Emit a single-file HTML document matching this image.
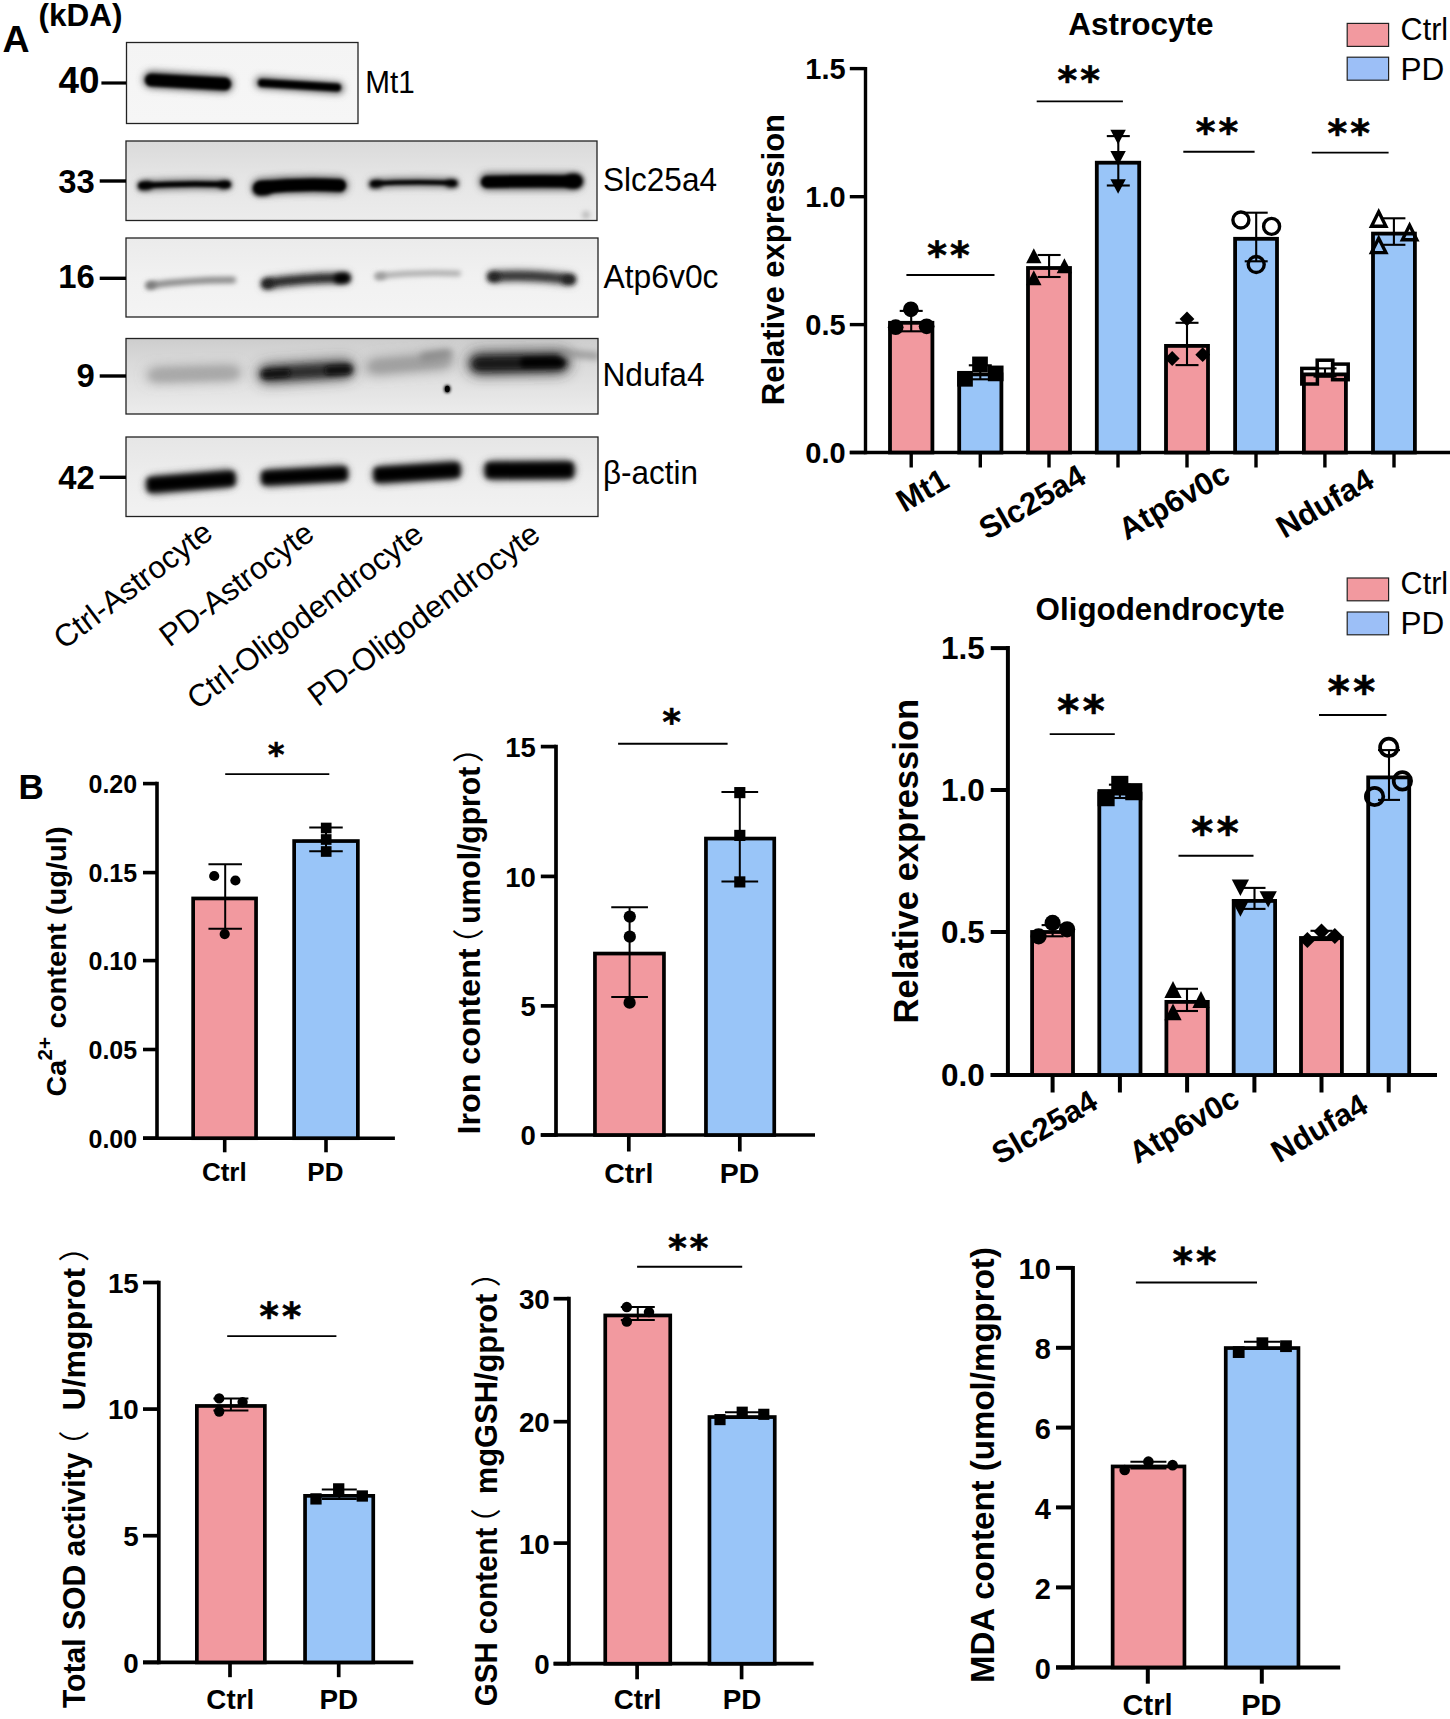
<!DOCTYPE html>
<html lang="en"><head><meta charset="utf-8"><title>Figure</title>
<style>html,body{margin:0;padding:0;background:#fff}svg{display:block;font-family:"Liberation Sans","Noto Sans CJK SC",sans-serif;fill:#000}</style></head><body>
<svg width="1450" height="1719" viewBox="0 0 1450 1719">
<defs><filter id="b1" filterUnits="userSpaceOnUse" x="100" y="20" width="520" height="520"><feGaussianBlur stdDeviation="1.6"/></filter><filter id="b2" filterUnits="userSpaceOnUse" x="100" y="20" width="520" height="520"><feGaussianBlur stdDeviation="2.4"/></filter><filter id="b3" filterUnits="userSpaceOnUse" x="100" y="20" width="520" height="520"><feGaussianBlur stdDeviation="3.6"/></filter><filter id="b6" filterUnits="userSpaceOnUse" x="100" y="20" width="520" height="520"><feGaussianBlur stdDeviation="7"/></filter></defs>
<rect width="1450" height="1719" fill="#fff"/>
<text x="2.5" y="51.7" font-size="37.5" font-weight="bold">A</text>
<text x="38.5" y="25.9" font-size="31.5" font-weight="bold">(kDA)</text>
<clipPath id="c1"><rect x="126.5" y="42.5" width="231.5" height="81.0"/></clipPath>
<linearGradient id="gc1" x1="0" y1="0" x2="0" y2="1"><stop offset="0" stop-color="#f4f4f4"/><stop offset="1" stop-color="#f6f6f6"/></linearGradient>
<rect x="126.5" y="42.5" width="231.5" height="81.0" fill="url(#gc1)"/>
<g clip-path="url(#c1)">
<path d="M151.5 79.5 Q188.0 81.75 224.5 84" fill="none" stroke="#555" stroke-width="17" stroke-linecap="round" filter="url(#b3)" opacity="1"/>
<path d="M151.25 80 Q188.0 82.0 224.75 84" fill="none" stroke="#000" stroke-width="12.5" stroke-linecap="round" filter="url(#b1)" opacity="1"/>
<path d="M261.0 82.5 Q299.5 85.25 338.0 88" fill="none" stroke="#666" stroke-width="12" stroke-linecap="round" filter="url(#b3)" opacity="1"/>
<path d="M262.0 83 Q299.5 85.25 337.0 87.5" fill="none" stroke="#000" stroke-width="8" stroke-linecap="round" filter="url(#b1)" opacity="1"/>
</g>
<rect x="126.5" y="42.5" width="231.5" height="81.0" fill="none" stroke="#222" stroke-width="1.3"/>
<clipPath id="c2"><rect x="126" y="141" width="471" height="79.5"/></clipPath>
<linearGradient id="gc2" x1="0" y1="0" x2="0" y2="1"><stop offset="0" stop-color="#dadada"/><stop offset="0.45" stop-color="#e5e5e5"/><stop offset="1" stop-color="#ececec"/></linearGradient>
<rect x="126" y="141" width="471" height="79.5" fill="url(#gc2)"/>
<g clip-path="url(#c2)">
<path d="M143.0 185.5 Q184.5 183.0 226.0 184.5" fill="none" stroke="#666" stroke-width="10" stroke-linecap="round" filter="url(#b3)" opacity="1"/>
<path d="M141.75 185.5 Q184.5 183.0 227.25 184.5" fill="none" stroke="#000" stroke-width="5.5" stroke-linecap="round" filter="url(#b1)" opacity="1"/>
<path d="M142.0 186 Q145.0 185.75 148.0 185.5" fill="none" stroke="#000" stroke-width="8" stroke-linecap="round" filter="url(#b2)" opacity="1"/>
<path d="M222.5 185 Q225.0 184.75 227.5 184.5" fill="none" stroke="#000" stroke-width="7" stroke-linecap="round" filter="url(#b2)" opacity="1"/>
<path d="M260.5 187 Q300.0 183.25 339.5 185.5" fill="none" stroke="#555" stroke-width="17" stroke-linecap="round" filter="url(#b3)" opacity="1"/>
<path d="M260.25 187.5 Q300.0 183.5 339.75 185.5" fill="none" stroke="#000" stroke-width="12.5" stroke-linecap="round" filter="url(#b1)" opacity="1"/>
<path d="M259.0 189.5 Q262.5 189.25 266.0 189" fill="none" stroke="#000" stroke-width="12" stroke-linecap="round" filter="url(#b2)" opacity="1"/>
<path d="M373.5 183.5 Q413.5 181.25 453.5 183" fill="none" stroke="#666" stroke-width="9" stroke-linecap="round" filter="url(#b3)" opacity="1"/>
<path d="M373.25 183.5 Q413.5 181.25 453.75 183" fill="none" stroke="#000" stroke-width="4.5" stroke-linecap="round" filter="url(#b1)" opacity="1"/>
<path d="M373.0 184.5 Q375.75 184.25 378.5 184" fill="none" stroke="#000" stroke-width="7" stroke-linecap="round" filter="url(#b2)" opacity="1"/>
<path d="M449.5 183.5 Q452.0 183.5 454.5 183.5" fill="none" stroke="#000" stroke-width="7" stroke-linecap="round" filter="url(#b2)" opacity="1"/>
<path d="M487.5 181.5 Q531.0 181.5 574.5 181.5" fill="none" stroke="#555" stroke-width="17" stroke-linecap="round" filter="url(#b3)" opacity="1"/>
<path d="M487.0 182 Q531.0 180.75 575.0 181.5" fill="none" stroke="#000" stroke-width="12" stroke-linecap="round" filter="url(#b1)" opacity="1"/>
<path d="M572.0 181 Q574.0 181.0 576.0 181" fill="none" stroke="#000" stroke-width="14" stroke-linecap="round" filter="url(#b2)" opacity="1"/>
<ellipse cx="586" cy="215" rx="4" ry="4" fill="#bbb" filter="url(#b2)"/>
</g>
<rect x="126" y="141" width="471" height="79.5" fill="none" stroke="#222" stroke-width="1.3"/>
<clipPath id="c3"><rect x="126" y="238" width="472" height="79"/></clipPath>
<linearGradient id="gc3" x1="0" y1="0" x2="0" y2="1"><stop offset="0" stop-color="#ebebeb"/><stop offset="0.5" stop-color="#f1f1f1"/><stop offset="1" stop-color="#f4f4f4"/></linearGradient>
<rect x="126" y="238" width="472" height="79" fill="url(#gc3)"/>
<g clip-path="url(#c3)">
<path d="M149.25 285.5 Q191.0 279.75 232.75 280" fill="none" stroke="#888" stroke-width="6.5" stroke-linecap="round" filter="url(#b2)" opacity="1"/>
<path d="M149.5 285.5 Q151.0 285.25 152.5 285" fill="none" stroke="#777" stroke-width="7" stroke-linecap="round" filter="url(#b2)" opacity="1"/>
<path d="M267.0 283.5 Q306.0 277.75 345.0 278" fill="none" stroke="#666" stroke-width="12" stroke-linecap="round" filter="url(#b3)" opacity="1"/>
<path d="M266.0 283.5 Q306.0 277.75 346.0 278" fill="none" stroke="#222" stroke-width="6" stroke-linecap="round" filter="url(#b2)" opacity="1"/>
<path d="M339.0 278.5 Q342.0 278.25 345.0 278" fill="none" stroke="#000" stroke-width="10" stroke-linecap="round" filter="url(#b2)" opacity="1"/>
<path d="M266.5 284 Q268.0 283.75 269.5 283.5" fill="none" stroke="#222" stroke-width="9" stroke-linecap="round" filter="url(#b2)" opacity="1"/>
<path d="M377.75 276 Q418.0 271.75 458.25 273.5" fill="none" stroke="#aaa" stroke-width="5.5" stroke-linecap="round" filter="url(#b2)" opacity="1"/>
<path d="M378.25 276.5 Q380.5 276.25 382.75 276" fill="none" stroke="#999" stroke-width="6.5" stroke-linecap="round" filter="url(#b2)" opacity="1"/>
<path d="M493.0 276.5 Q531.5 274.0 570.0 279.5" fill="none" stroke="#666" stroke-width="12" stroke-linecap="round" filter="url(#b3)" opacity="1"/>
<path d="M492.0 276.5 Q531.5 274.0 571.0 279.5" fill="none" stroke="#333" stroke-width="6" stroke-linecap="round" filter="url(#b2)" opacity="1"/>
<path d="M492.5 277 Q494.0 277.0 495.5 277" fill="none" stroke="#222" stroke-width="9" stroke-linecap="round" filter="url(#b2)" opacity="1"/>
<path d="M566.5 279.5 Q568.5 279.5 570.5 279.5" fill="none" stroke="#222" stroke-width="9" stroke-linecap="round" filter="url(#b2)" opacity="1"/>
</g>
<rect x="126" y="238" width="472" height="79" fill="none" stroke="#222" stroke-width="1.3"/>
<clipPath id="c4"><rect x="126" y="338.5" width="472" height="75.5"/></clipPath>
<linearGradient id="gc4" x1="0" y1="0" x2="0" y2="1"><stop offset="0" stop-color="#cdcdcd"/><stop offset="0.3" stop-color="#d9d9d9"/><stop offset="1" stop-color="#ececec"/></linearGradient>
<rect x="126" y="338.5" width="472" height="75.5" fill="url(#gc4)"/>
<g clip-path="url(#c4)">
<path d="M153.5 375 Q194.0 373.75 234.5 372.5" fill="none" stroke="#888" stroke-width="11" stroke-linecap="round" filter="url(#b6)" opacity="1"/>
<path d="M153.5 375.5 Q194.0 374.25 234.5 373" fill="none" stroke="#a8a8a8" stroke-width="7" stroke-linecap="round" filter="url(#b3)" opacity="1"/>
<path d="M267.0 374 Q306.0 371.5 345.0 369" fill="none" stroke="#444" stroke-width="18" stroke-linecap="round" filter="url(#b6)" opacity="1"/>
<path d="M266.5 374 Q307.0 371.75 347.5 369.5" fill="none" stroke="#2a2a2a" stroke-width="11" stroke-linecap="round" filter="url(#b3)" opacity="1"/>
<path d="M265.5 374.5 Q276.0 373.75 286.5 373" fill="none" stroke="#111" stroke-width="7" stroke-linecap="round" filter="url(#b2)" opacity="1"/>
<path d="M329.0 370.5 Q338.0 370.0 347.0 369.5" fill="none" stroke="#111" stroke-width="8" stroke-linecap="round" filter="url(#b2)" opacity="1"/>
<path d="M372.5 367 Q409.0 363.75 445.5 360.5" fill="none" stroke="#888" stroke-width="13" stroke-linecap="round" filter="url(#b6)" opacity="1"/>
<path d="M373.5 366.5 Q410.0 363.75 446.5 361" fill="none" stroke="#a0a0a0" stroke-width="7" stroke-linecap="round" filter="url(#b3)" opacity="1"/>
<path d="M424.0 357 Q436.0 355.25 448.0 353.5" fill="none" stroke="#8a8a8a" stroke-width="8" stroke-linecap="round" filter="url(#b3)" opacity="1"/>
<path d="M479.0 363.5 Q519.0 362.75 559.0 362" fill="none" stroke="#333" stroke-width="22" stroke-linecap="round" filter="url(#b6)" opacity="1"/>
<path d="M478.5 364 Q519.0 363.25 559.5 362.5" fill="none" stroke="#161616" stroke-width="13" stroke-linecap="round" filter="url(#b3)" opacity="1"/>
<path d="M524.5 362.5 Q542.0 362.25 559.5 362" fill="none" stroke="#000" stroke-width="9" stroke-linecap="round" filter="url(#b2)" opacity="1"/>
<path d="M563.0 353 Q580.0 354.5 597.0 356" fill="none" stroke="#8c8c8c" stroke-width="6" stroke-linecap="round" filter="url(#b3)" opacity="1"/>
<ellipse cx="447.3" cy="389" rx="3.2" ry="4" fill="#000" filter="url(#b1)"/>
<ellipse cx="447.3" cy="389" rx="2.4" ry="3.2" fill="#000"/>
</g>
<rect x="126" y="338.5" width="472" height="75.5" fill="none" stroke="#222" stroke-width="1.3"/>
<clipPath id="c5"><rect x="126" y="437" width="472" height="79.5"/></clipPath>
<linearGradient id="gc5" x1="0" y1="0" x2="0" y2="1"><stop offset="0" stop-color="#e6e6e6"/><stop offset="0.5" stop-color="#ededed"/><stop offset="1" stop-color="#f2f2f2"/></linearGradient>
<rect x="126" y="437" width="472" height="79.5" fill="url(#gc5)"/>
<g clip-path="url(#c5)">
<path d="M154.5 485 Q191.0 481.75 227.5 478.5" fill="none" stroke="#444" stroke-width="19" stroke-linecap="round" filter="url(#b3)" opacity="1"/>
<path d="M147.75 485 Q191.0 481.75 234.25 478.5" fill="none" stroke="#000" stroke-width="13.5" stroke-linecap="butt" filter="url(#b2)" opacity="1"/>
<path d="M269.0 478 Q304.5 475.75 340.0 473.5" fill="none" stroke="#444" stroke-width="18" stroke-linecap="round" filter="url(#b3)" opacity="1"/>
<path d="M262.25 478 Q304.5 475.75 346.75 473.5" fill="none" stroke="#000" stroke-width="12.5" stroke-linecap="butt" filter="url(#b2)" opacity="1"/>
<path d="M381.5 475 Q417.0 472.5 452.5 470" fill="none" stroke="#444" stroke-width="19" stroke-linecap="round" filter="url(#b3)" opacity="1"/>
<path d="M374.75 475 Q417.0 472.5 459.25 470" fill="none" stroke="#000" stroke-width="13.5" stroke-linecap="butt" filter="url(#b2)" opacity="1"/>
<path d="M493.0 470.5 Q529.5 470.25 566.0 470" fill="none" stroke="#444" stroke-width="20" stroke-linecap="round" filter="url(#b3)" opacity="1"/>
<path d="M486.25 470.5 Q529.5 470.25 572.75 470" fill="none" stroke="#000" stroke-width="14.5" stroke-linecap="butt" filter="url(#b2)" opacity="1"/>
</g>
<rect x="126" y="437" width="472" height="79.5" fill="none" stroke="#222" stroke-width="1.3"/>
<text x="58.6" y="92.7" font-size="37" font-weight="bold" textLength="41" lengthAdjust="spacingAndGlyphs">40</text>
<line x1="101.4" y1="83" x2="126" y2="83" stroke="#000" stroke-width="3.2" stroke-linecap="butt"/>
<text x="58.2" y="192.8" font-size="32.8" font-weight="bold">33</text>
<line x1="99.7" y1="181" x2="126" y2="181" stroke="#000" stroke-width="3.4" stroke-linecap="butt"/>
<text x="58.2" y="287.5" font-size="32.8" font-weight="bold">16</text>
<line x1="99.7" y1="278.3" x2="126" y2="278.3" stroke="#000" stroke-width="3.4" stroke-linecap="butt"/>
<text x="76.6" y="387.3" font-size="32.8" font-weight="bold">9</text>
<line x1="99.7" y1="376" x2="126" y2="376" stroke="#000" stroke-width="3.4" stroke-linecap="butt"/>
<text x="58.2" y="489" font-size="32.8" font-weight="bold">42</text>
<line x1="99.7" y1="477.3" x2="126" y2="477.3" stroke="#000" stroke-width="3.4" stroke-linecap="butt"/>
<text x="365.3" y="92.8" font-size="31.8" textLength="49.5" lengthAdjust="spacingAndGlyphs">Mt1</text>
<text x="603" y="191.4" font-size="32.3" textLength="114" lengthAdjust="spacingAndGlyphs">Slc25a4</text>
<text x="603.5" y="287.7" font-size="32.3" textLength="115" lengthAdjust="spacingAndGlyphs">Atp6v0c</text>
<text x="602.5" y="386.4" font-size="32.3" textLength="102" lengthAdjust="spacingAndGlyphs">Ndufa4</text>
<text x="603" y="484.2" font-size="32.3" textLength="95" lengthAdjust="spacingAndGlyphs">β-actin</text>
<text x="214.7" y="536.5" font-size="31.2" text-anchor="end" transform="rotate(-37 214.7 536.5)">Ctrl-Astrocyte</text>
<text x="316.2" y="537.3" font-size="31.2" text-anchor="end" transform="rotate(-37 316.2 537.3)">PD-Astrocyte</text>
<text x="425.6" y="538.4" font-size="31.2" text-anchor="end" transform="rotate(-37 425.6 538.4)">Ctrl-Oligodendrocyte</text>
<text x="542.2" y="538.4" font-size="31.2" text-anchor="end" transform="rotate(-37 542.2 538.4)">PD-Oligodendrocyte</text>
<text x="1140.8" y="35.2" font-size="31.5" font-weight="bold" text-anchor="middle">Astrocyte</text>
<rect x="1347.2" y="23.4" width="41.4" height="23" fill="#F2999F" stroke="#222" stroke-width="1.2"/>
<text x="1400.6" y="40.1" font-size="31.5" textLength="47.5" lengthAdjust="spacingAndGlyphs">Ctrl</text>
<rect x="1347.2" y="57.199999999999996" width="41.4" height="23" fill="#9CBFF7" stroke="#222" stroke-width="1.2"/>
<text x="1400.6" y="80.1" font-size="31.5">PD</text>
<line x1="865.5" y1="66.89999999999999" x2="865.5" y2="454.2" stroke="#000" stroke-width="3.4" stroke-linecap="butt"/>
<line x1="849.8" y1="452.5" x2="1450" y2="452.5" stroke="#000" stroke-width="3.4" stroke-linecap="butt"/>
<line x1="849.8" y1="68.6" x2="865.5" y2="68.6" stroke="#000" stroke-width="3.4" stroke-linecap="butt"/>
<text x="845.6" y="79.0" font-size="29" font-weight="bold" text-anchor="end">1.5</text>
<line x1="849.8" y1="196.7" x2="865.5" y2="196.7" stroke="#000" stroke-width="3.4" stroke-linecap="butt"/>
<text x="845.6" y="207.1" font-size="29" font-weight="bold" text-anchor="end">1.0</text>
<line x1="849.8" y1="324.6" x2="865.5" y2="324.6" stroke="#000" stroke-width="3.4" stroke-linecap="butt"/>
<text x="845.6" y="335.0" font-size="29" font-weight="bold" text-anchor="end">0.5</text>
<line x1="849.8" y1="452.5" x2="865.5" y2="452.5" stroke="#000" stroke-width="3.4" stroke-linecap="butt"/>
<text x="845.6" y="462.9" font-size="29" font-weight="bold" text-anchor="end">0.0</text>
<line x1="911.2" y1="452.5" x2="911.2" y2="467.5" stroke="#000" stroke-width="3.4" stroke-linecap="butt"/>
<line x1="980.3" y1="452.5" x2="980.3" y2="467.5" stroke="#000" stroke-width="3.4" stroke-linecap="butt"/>
<line x1="1049" y1="452.5" x2="1049" y2="467.5" stroke="#000" stroke-width="3.4" stroke-linecap="butt"/>
<line x1="1118" y1="452.5" x2="1118" y2="467.5" stroke="#000" stroke-width="3.4" stroke-linecap="butt"/>
<line x1="1187" y1="452.5" x2="1187" y2="467.5" stroke="#000" stroke-width="3.4" stroke-linecap="butt"/>
<line x1="1256" y1="452.5" x2="1256" y2="467.5" stroke="#000" stroke-width="3.4" stroke-linecap="butt"/>
<line x1="1324.9" y1="452.5" x2="1324.9" y2="467.5" stroke="#000" stroke-width="3.4" stroke-linecap="butt"/>
<line x1="1394" y1="452.5" x2="1394" y2="467.5" stroke="#000" stroke-width="3.4" stroke-linecap="butt"/>
<text x="784.4" y="259.6" font-size="31" font-weight="bold" text-anchor="middle" transform="rotate(-90 784.4 259.6)" textLength="291.3" lengthAdjust="spacingAndGlyphs">Relative expression</text>
<rect x="890.0" y="322.79999999999995" width="42.399999999999935" height="129.70000000000002" fill="#F2999F" stroke="#000" stroke-width="3.8"/>
<line x1="911.2" y1="310.9" x2="911.2" y2="331.3" stroke="#000" stroke-width="2.1" stroke-linecap="butt"/>
<line x1="899.7" y1="310.9" x2="922.7" y2="310.9" stroke="#000" stroke-width="2.1" stroke-linecap="butt"/>
<line x1="899.7" y1="331.3" x2="922.7" y2="331.3" stroke="#000" stroke-width="2.1" stroke-linecap="butt"/>
<circle cx="910.9" cy="309.3" r="7.85" fill="#000"/>
<circle cx="895.7" cy="327.2" r="7.85" fill="#000"/>
<circle cx="926.6" cy="326.3" r="7.85" fill="#000"/>
<rect x="959.1999999999999" y="374.4" width="42.2" height="78.1" fill="#99C5F8" stroke="#000" stroke-width="3.8"/>
<line x1="980.3" y1="365.3" x2="980.3" y2="379.3" stroke="#000" stroke-width="2.1" stroke-linecap="butt"/>
<line x1="968.8" y1="365.3" x2="991.8" y2="365.3" stroke="#000" stroke-width="2.1" stroke-linecap="butt"/>
<line x1="968.8" y1="379.3" x2="991.8" y2="379.3" stroke="#000" stroke-width="2.1" stroke-linecap="butt"/>
<rect x="972.15" y="356.55" width="15.70" height="15.70" fill="#000"/>
<rect x="957.15" y="370.95" width="15.70" height="15.70" fill="#000"/>
<rect x="987.85" y="365.55" width="15.70" height="15.70" fill="#000"/>
<rect x="1028.0" y="268.0" width="42.000000000000185" height="184.49999999999997" fill="#F2999F" stroke="#000" stroke-width="3.8"/>
<line x1="1049.1" y1="255" x2="1049.1" y2="277" stroke="#000" stroke-width="2.1" stroke-linecap="butt"/>
<line x1="1037.6" y1="255" x2="1060.6" y2="255" stroke="#000" stroke-width="2.1" stroke-linecap="butt"/>
<line x1="1037.6" y1="277" x2="1060.6" y2="277" stroke="#000" stroke-width="2.1" stroke-linecap="butt"/>
<polygon points="1033.8,248.30 1041.50,263.30 1026.10,263.30" fill="#000"/>
<polygon points="1064.4,258.30 1072.10,273.30 1056.70,273.30" fill="#000"/>
<polygon points="1033.8,270.20 1041.50,285.20 1026.10,285.20" fill="#000"/>
<rect x="1096.8000000000002" y="162.70000000000002" width="42.39999999999982" height="289.8" fill="#99C5F8" stroke="#000" stroke-width="3.8"/>
<line x1="1118.3" y1="136.1" x2="1118.3" y2="185.5" stroke="#000" stroke-width="2.1" stroke-linecap="butt"/>
<line x1="1106.8" y1="136.1" x2="1129.8" y2="136.1" stroke="#000" stroke-width="2.1" stroke-linecap="butt"/>
<line x1="1106.8" y1="185.5" x2="1129.8" y2="185.5" stroke="#000" stroke-width="2.1" stroke-linecap="butt"/>
<polygon points="1118.1,144.40 1125.80,129.80 1110.40,129.80" fill="#000"/>
<polygon points="1118.1,165.60 1125.80,151.00 1110.40,151.00" fill="#000"/>
<polygon points="1118.1,193.80 1125.80,179.20 1110.40,179.20" fill="#000"/>
<rect x="1166.0" y="345.9" width="42.000000000000185" height="106.6" fill="#F2999F" stroke="#000" stroke-width="3.8"/>
<line x1="1187" y1="322.8" x2="1187" y2="365.1" stroke="#000" stroke-width="2.1" stroke-linecap="butt"/>
<line x1="1175.5" y1="322.8" x2="1198.5" y2="322.8" stroke="#000" stroke-width="2.1" stroke-linecap="butt"/>
<line x1="1175.5" y1="365.1" x2="1198.5" y2="365.1" stroke="#000" stroke-width="2.1" stroke-linecap="butt"/>
<polygon points="1187,311.50 1194.40,318.9 1187,326.30 1179.60,318.9" fill="#000"/>
<polygon points="1172.2,351.10 1179.60,358.5 1172.2,365.90 1164.80,358.5" fill="#000"/>
<polygon points="1202.7,347.30 1210.10,354.7 1202.7,362.10 1195.30,354.7" fill="#000"/>
<rect x="1235.1000000000001" y="238.8" width="41.90000000000005" height="213.7" fill="#99C5F8" stroke="#000" stroke-width="3.8"/>
<line x1="1256.2" y1="212.7" x2="1256.2" y2="261.3" stroke="#000" stroke-width="2.1" stroke-linecap="butt"/>
<line x1="1244.7" y1="212.7" x2="1267.7" y2="212.7" stroke="#000" stroke-width="2.1" stroke-linecap="butt"/>
<line x1="1244.7" y1="261.3" x2="1267.7" y2="261.3" stroke="#000" stroke-width="2.1" stroke-linecap="butt"/>
<circle cx="1240.9" cy="220" r="8.00" fill="none" stroke="#000" stroke-width="3.40"/>
<circle cx="1271.6" cy="226.4" r="8.00" fill="none" stroke="#000" stroke-width="3.40"/>
<circle cx="1256.2" cy="264.5" r="8.00" fill="none" stroke="#000" stroke-width="3.40"/>
<rect x="1303.9" y="374.4" width="41.99999999999996" height="78.1" fill="#F2999F" stroke="#000" stroke-width="3.8"/>
<line x1="1325" y1="368.4" x2="1325" y2="376.5" stroke="#000" stroke-width="2.1" stroke-linecap="butt"/>
<line x1="1313.5" y1="368.4" x2="1336.5" y2="368.4" stroke="#000" stroke-width="2.1" stroke-linecap="butt"/>
<line x1="1313.5" y1="376.5" x2="1336.5" y2="376.5" stroke="#000" stroke-width="2.1" stroke-linecap="butt"/>
<rect x="1317.20" y="360.20" width="15.60" height="15.60" fill="none" stroke="#000" stroke-width="3.50"/>
<rect x="1301.80" y="368.40" width="15.60" height="15.60" fill="none" stroke="#000" stroke-width="3.50"/>
<rect x="1332.60" y="364.10" width="15.60" height="15.60" fill="none" stroke="#000" stroke-width="3.50"/>
<rect x="1373.0" y="233.6" width="41.90000000000005" height="218.9" fill="#99C5F8" stroke="#000" stroke-width="3.8"/>
<line x1="1393.9" y1="218.3" x2="1393.9" y2="244.8" stroke="#000" stroke-width="2.1" stroke-linecap="butt"/>
<line x1="1382.4" y1="218.3" x2="1405.4" y2="218.3" stroke="#000" stroke-width="2.1" stroke-linecap="butt"/>
<line x1="1382.4" y1="244.8" x2="1405.4" y2="244.8" stroke="#000" stroke-width="2.1" stroke-linecap="butt"/>
<polygon points="1378.7,211.80 1385.90,226.20 1371.50,226.20" fill="none" stroke="#000" stroke-width="3.40" stroke-linejoin="miter" stroke-miterlimit="10"/>
<polygon points="1409.6,225.30 1416.80,239.70 1402.40,239.70" fill="none" stroke="#000" stroke-width="3.40" stroke-linejoin="miter" stroke-miterlimit="10"/>
<polygon points="1378.7,238.20 1385.90,252.60 1371.50,252.60" fill="none" stroke="#000" stroke-width="3.40" stroke-linejoin="miter" stroke-miterlimit="10"/>
<line x1="906.4" y1="275" x2="994.5" y2="275" stroke="#000" stroke-width="1.9" stroke-linecap="butt"/>
<text x="948.6" y="267.6" font-size="37.8" font-weight="bold" text-anchor="middle" font-family="'DejaVu Sans Mono',monospace" stroke="#000" stroke-width="0.6">**</text>
<line x1="1036.7" y1="101.4" x2="1122.9" y2="101.4" stroke="#000" stroke-width="1.9" stroke-linecap="butt"/>
<text x="1078.7" y="92.9" font-size="37.8" font-weight="bold" text-anchor="middle" font-family="'DejaVu Sans Mono',monospace" stroke="#000" stroke-width="0.6">**</text>
<line x1="1183.3" y1="151.7" x2="1254.6" y2="151.7" stroke="#000" stroke-width="1.9" stroke-linecap="butt"/>
<text x="1217.1" y="144.5" font-size="37.8" font-weight="bold" text-anchor="middle" font-family="'DejaVu Sans Mono',monospace" stroke="#000" stroke-width="0.6">**</text>
<line x1="1311.8" y1="152.6" x2="1388.6" y2="152.6" stroke="#000" stroke-width="1.9" stroke-linecap="butt"/>
<text x="1348.8" y="145.7" font-size="37.8" font-weight="bold" text-anchor="middle" font-family="'DejaVu Sans Mono',monospace" stroke="#000" stroke-width="0.6">**</text>
<text x="951" y="486" font-size="31.3" font-weight="bold" text-anchor="end" transform="rotate(-30 951 486)">Mt1</text>
<text x="1088" y="482" font-size="31.3" font-weight="bold" text-anchor="end" transform="rotate(-30 1088 482)">Slc25a4</text>
<text x="1232" y="480" font-size="31.3" font-weight="bold" text-anchor="end" transform="rotate(-30 1232 480)">Atp6v0c</text>
<text x="1376" y="486" font-size="31.3" font-weight="bold" text-anchor="end" transform="rotate(-30 1376 486)">Ndufa4</text>
<text x="1035.6" y="620.3" font-size="30.5" font-weight="bold" textLength="249" lengthAdjust="spacingAndGlyphs">Oligodendrocyte</text>
<rect x="1347.2" y="578" width="41.4" height="22.8" fill="#F2999F" stroke="#222" stroke-width="1.2"/>
<text x="1400.6" y="593.8" font-size="31.5" textLength="47.5" lengthAdjust="spacingAndGlyphs">Ctrl</text>
<rect x="1347.2" y="612" width="41.4" height="22.8" fill="#9CBFF7" stroke="#222" stroke-width="1.2"/>
<text x="1400.6" y="634" font-size="31.5">PD</text>
<line x1="1007.9" y1="646.1" x2="1007.9" y2="1077.0" stroke="#000" stroke-width="4.0" stroke-linecap="butt"/>
<line x1="990.7" y1="1075" x2="1437" y2="1075" stroke="#000" stroke-width="4.0" stroke-linecap="butt"/>
<line x1="990.7" y1="648.1" x2="1007.9" y2="648.1" stroke="#000" stroke-width="4.0" stroke-linecap="butt"/>
<text x="984.8" y="659.4" font-size="31.5" font-weight="bold" text-anchor="end">1.5</text>
<line x1="990.7" y1="790" x2="1007.9" y2="790" stroke="#000" stroke-width="4.0" stroke-linecap="butt"/>
<text x="984.8" y="801.3" font-size="31.5" font-weight="bold" text-anchor="end">1.0</text>
<line x1="990.7" y1="932" x2="1007.9" y2="932" stroke="#000" stroke-width="4.0" stroke-linecap="butt"/>
<text x="984.8" y="943.3" font-size="31.5" font-weight="bold" text-anchor="end">0.5</text>
<line x1="990.7" y1="1075" x2="1007.9" y2="1075" stroke="#000" stroke-width="4.0" stroke-linecap="butt"/>
<text x="984.8" y="1086.3" font-size="31.5" font-weight="bold" text-anchor="end">0.0</text>
<line x1="1052.6" y1="1075" x2="1052.6" y2="1092.5" stroke="#000" stroke-width="4.0" stroke-linecap="butt"/>
<line x1="1119.9" y1="1075" x2="1119.9" y2="1092.5" stroke="#000" stroke-width="4.0" stroke-linecap="butt"/>
<line x1="1187.1" y1="1075" x2="1187.1" y2="1092.5" stroke="#000" stroke-width="4.0" stroke-linecap="butt"/>
<line x1="1254.4" y1="1075" x2="1254.4" y2="1092.5" stroke="#000" stroke-width="4.0" stroke-linecap="butt"/>
<line x1="1321.5" y1="1075" x2="1321.5" y2="1092.5" stroke="#000" stroke-width="4.0" stroke-linecap="butt"/>
<line x1="1388.7" y1="1075" x2="1388.7" y2="1092.5" stroke="#000" stroke-width="4.0" stroke-linecap="butt"/>
<text x="918.1" y="861.2" font-size="34.5" font-weight="bold" text-anchor="middle" transform="rotate(-90 918.1 861.2)" textLength="324.7" lengthAdjust="spacingAndGlyphs">Relative expression</text>
<rect x="1032.1000000000001" y="932.0" width="40.90000000000005" height="142.99999999999997" fill="#F2999F" stroke="#000" stroke-width="3.8"/>
<line x1="1052.6" y1="925.1" x2="1052.6" y2="936.3" stroke="#000" stroke-width="2.1" stroke-linecap="butt"/>
<line x1="1041.6" y1="925.1" x2="1063.6" y2="925.1" stroke="#000" stroke-width="2.1" stroke-linecap="butt"/>
<line x1="1041.6" y1="936.3" x2="1063.6" y2="936.3" stroke="#000" stroke-width="2.1" stroke-linecap="butt"/>
<circle cx="1052.6" cy="922.9" r="8.09" fill="#000"/>
<circle cx="1038.6" cy="936.3" r="8.09" fill="#000"/>
<circle cx="1067.1" cy="929.3" r="8.09" fill="#000"/>
<rect x="1099.3000000000002" y="793.6" width="41.2" height="281.4" fill="#99C5F8" stroke="#000" stroke-width="3.8"/>
<line x1="1119.9" y1="784.7" x2="1119.9" y2="798" stroke="#000" stroke-width="2.1" stroke-linecap="butt"/>
<line x1="1108.9" y1="784.7" x2="1130.9" y2="784.7" stroke="#000" stroke-width="2.1" stroke-linecap="butt"/>
<line x1="1108.9" y1="798" x2="1130.9" y2="798" stroke="#000" stroke-width="2.1" stroke-linecap="butt"/>
<rect x="1111.24" y="775.84" width="17.11" height="17.11" fill="#000"/>
<rect x="1097.54" y="789.14" width="17.11" height="17.11" fill="#000"/>
<rect x="1125.24" y="783.14" width="17.11" height="17.11" fill="#000"/>
<rect x="1166.4" y="1001.9" width="41.40000000000005" height="73.1" fill="#F2999F" stroke="#000" stroke-width="3.8"/>
<line x1="1187" y1="988.8" x2="1187" y2="1011" stroke="#000" stroke-width="2.1" stroke-linecap="butt"/>
<line x1="1176.0" y1="988.8" x2="1198.0" y2="988.8" stroke="#000" stroke-width="2.1" stroke-linecap="butt"/>
<line x1="1176.0" y1="1011" x2="1198.0" y2="1011" stroke="#000" stroke-width="2.1" stroke-linecap="butt"/>
<polygon points="1173,981.10 1181.62,997.90 1164.38,997.90" fill="#000"/>
<polygon points="1201,991.10 1209.62,1007.90 1192.38,1007.90" fill="#000"/>
<polygon points="1173,1003.40 1181.62,1020.20 1164.38,1020.20" fill="#000"/>
<rect x="1233.7" y="900.9" width="41.40000000000005" height="174.1" fill="#99C5F8" stroke="#000" stroke-width="3.8"/>
<line x1="1254.5" y1="887.9" x2="1254.5" y2="908.9" stroke="#000" stroke-width="2.1" stroke-linecap="butt"/>
<line x1="1243.5" y1="887.9" x2="1265.5" y2="887.9" stroke="#000" stroke-width="2.1" stroke-linecap="butt"/>
<line x1="1243.5" y1="908.9" x2="1265.5" y2="908.9" stroke="#000" stroke-width="2.1" stroke-linecap="butt"/>
<polygon points="1240.4,895.98 1249.02,879.62 1231.78,879.62" fill="#000"/>
<polygon points="1268.2,907.58 1276.82,891.22 1259.58,891.22" fill="#000"/>
<polygon points="1240.4,916.68 1249.02,900.32 1231.78,900.32" fill="#000"/>
<rect x="1301.0" y="938.0" width="40.90000000000005" height="136.99999999999997" fill="#F2999F" stroke="#000" stroke-width="3.8"/>
<line x1="1321.5" y1="930.8" x2="1321.5" y2="940" stroke="#000" stroke-width="2.1" stroke-linecap="butt"/>
<line x1="1310.5" y1="930.8" x2="1332.5" y2="930.8" stroke="#000" stroke-width="2.1" stroke-linecap="butt"/>
<line x1="1310.5" y1="940" x2="1332.5" y2="940" stroke="#000" stroke-width="2.1" stroke-linecap="butt"/>
<polygon points="1321.5,923.41 1329.49,931.4 1321.5,939.39 1313.51,931.4" fill="#000"/>
<polygon points="1307.4,932.11 1315.39,940.1 1307.4,948.09 1299.41,940.1" fill="#000"/>
<polygon points="1334.8,928.11 1342.79,936.1 1334.8,944.09 1326.81,936.1" fill="#000"/>
<rect x="1368.2" y="777.4" width="40.99999999999996" height="297.6" fill="#99C5F8" stroke="#000" stroke-width="3.8"/>
<line x1="1389" y1="750.1" x2="1389" y2="799.9" stroke="#000" stroke-width="2.1" stroke-linecap="butt"/>
<line x1="1378.0" y1="750.1" x2="1400.0" y2="750.1" stroke="#000" stroke-width="2.1" stroke-linecap="butt"/>
<line x1="1378.0" y1="799.9" x2="1400.0" y2="799.9" stroke="#000" stroke-width="2.1" stroke-linecap="butt"/>
<circle cx="1388.8" cy="747.4" r="8.72" fill="none" stroke="#000" stroke-width="3.71"/>
<circle cx="1402.4" cy="780.9" r="8.72" fill="none" stroke="#000" stroke-width="3.71"/>
<circle cx="1374.6" cy="796.5" r="8.72" fill="none" stroke="#000" stroke-width="3.71"/>
<line x1="1049.7" y1="734.1" x2="1114.8" y2="734.1" stroke="#000" stroke-width="1.9" stroke-linecap="butt"/>
<text x="1080.9" y="726.1" font-size="42.3" font-weight="bold" text-anchor="middle" font-family="'DejaVu Sans Mono',monospace" stroke="#000" stroke-width="0.6">**</text>
<line x1="1178.5" y1="855.8" x2="1253.5" y2="855.8" stroke="#000" stroke-width="1.9" stroke-linecap="butt"/>
<text x="1215" y="848.1" font-size="42.3" font-weight="bold" text-anchor="middle" font-family="'DejaVu Sans Mono',monospace" stroke="#000" stroke-width="0.6">**</text>
<line x1="1319" y1="715" x2="1386.5" y2="715" stroke="#000" stroke-width="1.9" stroke-linecap="butt"/>
<text x="1351.5" y="706.9" font-size="42.3" font-weight="bold" text-anchor="middle" font-family="'DejaVu Sans Mono',monospace" stroke="#000" stroke-width="0.6">**</text>
<text x="1099.8" y="1107.4" font-size="31" font-weight="bold" text-anchor="end" transform="rotate(-30 1099.8 1107.4)">Slc25a4</text>
<text x="1241.5" y="1104.3" font-size="31" font-weight="bold" text-anchor="end" transform="rotate(-30 1241.5 1104.3)">Atp6v0c</text>
<text x="1370" y="1111" font-size="31" font-weight="bold" text-anchor="end" transform="rotate(-30 1370 1111)">Ndufa4</text>
<text x="18.5" y="799" font-size="35" font-weight="bold">B</text>
<line x1="157" y1="781.8000000000001" x2="157" y2="1140.0" stroke="#000" stroke-width="3.6" stroke-linecap="butt"/>
<line x1="143" y1="1138.2" x2="394.9" y2="1138.2" stroke="#000" stroke-width="3.6" stroke-linecap="butt"/>
<line x1="143" y1="783.6" x2="157" y2="783.6" stroke="#000" stroke-width="3.6" stroke-linecap="butt"/>
<text x="137.2" y="792.9" font-size="25" font-weight="bold" text-anchor="end">0.20</text>
<line x1="143" y1="872.6" x2="157" y2="872.6" stroke="#000" stroke-width="3.6" stroke-linecap="butt"/>
<text x="137.2" y="881.9" font-size="25" font-weight="bold" text-anchor="end">0.15</text>
<line x1="143" y1="960.6" x2="157" y2="960.6" stroke="#000" stroke-width="3.6" stroke-linecap="butt"/>
<text x="137.2" y="969.9" font-size="25" font-weight="bold" text-anchor="end">0.10</text>
<line x1="143" y1="1049.5" x2="157" y2="1049.5" stroke="#000" stroke-width="3.6" stroke-linecap="butt"/>
<text x="137.2" y="1058.8" font-size="25" font-weight="bold" text-anchor="end">0.05</text>
<line x1="143" y1="1138.2" x2="157" y2="1138.2" stroke="#000" stroke-width="3.6" stroke-linecap="butt"/>
<text x="137.2" y="1147.5" font-size="25" font-weight="bold" text-anchor="end">0.00</text>
<line x1="224.7" y1="1138.2" x2="224.7" y2="1152.3" stroke="#000" stroke-width="3.6" stroke-linecap="butt"/>
<line x1="326" y1="1138.2" x2="326" y2="1152.3" stroke="#000" stroke-width="3.6" stroke-linecap="butt"/>
<rect x="193.15" y="898.45" width="62.89999999999996" height="239.75000000000003" fill="#F2999F" stroke="#000" stroke-width="3.7"/>
<line x1="225.2" y1="864.2" x2="225.2" y2="928.8" stroke="#000" stroke-width="2.0" stroke-linecap="butt"/>
<line x1="208.45" y1="864.2" x2="241.95" y2="864.2" stroke="#000" stroke-width="2.0" stroke-linecap="butt"/>
<line x1="208.45" y1="928.8" x2="241.95" y2="928.8" stroke="#000" stroke-width="2.0" stroke-linecap="butt"/>
<circle cx="214.2" cy="876" r="5.10" fill="#000"/>
<circle cx="235.4" cy="880.5" r="5.10" fill="#000"/>
<circle cx="224.7" cy="934.1" r="5.10" fill="#000"/>
<text x="224.3" y="1180.9" font-size="26" font-weight="bold" text-anchor="middle">Ctrl</text>
<rect x="294.15000000000003" y="841.0500000000001" width="63.699999999999974" height="297.15" fill="#99C5F8" stroke="#000" stroke-width="3.7"/>
<line x1="326" y1="827.5" x2="326" y2="851.2" stroke="#000" stroke-width="2.0" stroke-linecap="butt"/>
<line x1="309.25" y1="827.5" x2="342.75" y2="827.5" stroke="#000" stroke-width="2.0" stroke-linecap="butt"/>
<line x1="309.25" y1="851.2" x2="342.75" y2="851.2" stroke="#000" stroke-width="2.0" stroke-linecap="butt"/>
<rect x="320.86" y="822.66" width="10.68" height="10.68" fill="#000"/>
<rect x="320.86" y="834.16" width="10.68" height="10.68" fill="#000"/>
<rect x="320.86" y="846.16" width="10.68" height="10.68" fill="#000"/>
<text x="325.4" y="1180.9" font-size="26" font-weight="bold" text-anchor="middle">PD</text>
<line x1="225.2" y1="774.1" x2="329.3" y2="774.1" stroke="#000" stroke-width="1.9" stroke-linecap="butt"/>
<text x="276.2" y="765.2" font-size="31.5" font-weight="bold" text-anchor="middle" font-family="'DejaVu Sans Mono',monospace" stroke="#000" stroke-width="0.6">*</text>
<text transform="translate(66.3 1096.4) rotate(-90)" font-size="28.5" font-weight="bold">
<tspan x="0" y="0">Ca</tspan>
<tspan x="36" y="0" dy="-14" font-size="20.5">2+</tspan>
<tspan x="68" y="0" textLength="202" lengthAdjust="spacingAndGlyphs">content (ug/ul)</tspan>
</text>
<line x1="556" y1="744.75" x2="556" y2="1136.85" stroke="#000" stroke-width="3.7" stroke-linecap="butt"/>
<line x1="540.8" y1="1135" x2="815" y2="1135" stroke="#000" stroke-width="3.7" stroke-linecap="butt"/>
<line x1="540.8" y1="746.6" x2="556" y2="746.6" stroke="#000" stroke-width="3.7" stroke-linecap="butt"/>
<text x="535.8" y="756.9" font-size="27.5" font-weight="bold" text-anchor="end">15</text>
<line x1="540.8" y1="876.4" x2="556" y2="876.4" stroke="#000" stroke-width="3.7" stroke-linecap="butt"/>
<text x="535.8" y="886.7" font-size="27.5" font-weight="bold" text-anchor="end">10</text>
<line x1="540.8" y1="1005.9" x2="556" y2="1005.9" stroke="#000" stroke-width="3.7" stroke-linecap="butt"/>
<text x="535.8" y="1016.2" font-size="27.5" font-weight="bold" text-anchor="end">5</text>
<line x1="540.8" y1="1135" x2="556" y2="1135" stroke="#000" stroke-width="3.7" stroke-linecap="butt"/>
<text x="535.8" y="1145.3" font-size="27.5" font-weight="bold" text-anchor="end">0</text>
<line x1="628.8" y1="1135" x2="628.8" y2="1151.5" stroke="#000" stroke-width="3.7" stroke-linecap="butt"/>
<line x1="739.8" y1="1135" x2="739.8" y2="1151.5" stroke="#000" stroke-width="3.7" stroke-linecap="butt"/>
<rect x="594.95" y="953.5500000000001" width="68.99999999999993" height="181.44999999999996" fill="#F2999F" stroke="#000" stroke-width="3.7"/>
<line x1="629.6" y1="907.2" x2="629.6" y2="996.9" stroke="#000" stroke-width="2.0" stroke-linecap="butt"/>
<line x1="611.25" y1="907.2" x2="647.95" y2="907.2" stroke="#000" stroke-width="2.0" stroke-linecap="butt"/>
<line x1="611.25" y1="996.9" x2="647.95" y2="996.9" stroke="#000" stroke-width="2.0" stroke-linecap="butt"/>
<circle cx="629.8" cy="916.6" r="6.12" fill="#000"/>
<circle cx="629.8" cy="936.7" r="6.12" fill="#000"/>
<circle cx="629.6" cy="1002.7" r="6.12" fill="#000"/>
<text x="628.8" y="1182.6" font-size="28.5" font-weight="bold" text-anchor="middle">Ctrl</text>
<rect x="705.95" y="838.5500000000001" width="68.3" height="296.44999999999993" fill="#99C5F8" stroke="#000" stroke-width="3.7"/>
<line x1="739.8" y1="792.1" x2="739.8" y2="881.4" stroke="#000" stroke-width="2.0" stroke-linecap="butt"/>
<line x1="721.4499999999999" y1="792.1" x2="758.15" y2="792.1" stroke="#000" stroke-width="2.0" stroke-linecap="butt"/>
<line x1="721.4499999999999" y1="881.4" x2="758.15" y2="881.4" stroke="#000" stroke-width="2.0" stroke-linecap="butt"/>
<rect x="734.23" y="787.03" width="11.15" height="11.15" fill="#000"/>
<rect x="734.23" y="829.83" width="11.15" height="11.15" fill="#000"/>
<rect x="734.23" y="876.33" width="11.15" height="11.15" fill="#000"/>
<text x="739.6" y="1182.6" font-size="28.5" font-weight="bold" text-anchor="middle">PD</text>
<line x1="618.1" y1="743.8" x2="727.6" y2="743.8" stroke="#000" stroke-width="1.9" stroke-linecap="butt"/>
<text x="671.8" y="734.0" font-size="35.5" font-weight="bold" text-anchor="middle" font-family="'DejaVu Sans Mono',monospace" stroke="#000" stroke-width="0.6">*</text>
<text transform="translate(479.6 1134.4) rotate(-90)" font-size="31.5" font-weight="bold">
<tspan x="0" y="0" textLength="186" lengthAdjust="spacingAndGlyphs">Iron content</tspan>
<tspan x="174.5" y="0" font-weight="normal">（</tspan>
<tspan x="210.6" y="0" textLength="157" lengthAdjust="spacingAndGlyphs">umol/gprot</tspan>
<tspan x="371.3" y="0" font-weight="normal">）</tspan>
</text>
<line x1="158.8" y1="1280.65" x2="158.8" y2="1664.25" stroke="#000" stroke-width="3.7" stroke-linecap="butt"/>
<line x1="143" y1="1662.4" x2="413.3" y2="1662.4" stroke="#000" stroke-width="3.7" stroke-linecap="butt"/>
<line x1="143" y1="1282.5" x2="158.8" y2="1282.5" stroke="#000" stroke-width="3.7" stroke-linecap="butt"/>
<text x="138.8" y="1292.6" font-size="27.8" font-weight="bold" text-anchor="end">15</text>
<line x1="143" y1="1409.1" x2="158.8" y2="1409.1" stroke="#000" stroke-width="3.7" stroke-linecap="butt"/>
<text x="138.8" y="1419.2" font-size="27.8" font-weight="bold" text-anchor="end">10</text>
<line x1="143" y1="1535.7" x2="158.8" y2="1535.7" stroke="#000" stroke-width="3.7" stroke-linecap="butt"/>
<text x="138.8" y="1545.8" font-size="27.8" font-weight="bold" text-anchor="end">5</text>
<line x1="143" y1="1662.4" x2="158.8" y2="1662.4" stroke="#000" stroke-width="3.7" stroke-linecap="butt"/>
<text x="138.8" y="1672.5" font-size="27.8" font-weight="bold" text-anchor="end">0</text>
<line x1="230" y1="1662.4" x2="230" y2="1677.2" stroke="#000" stroke-width="3.7" stroke-linecap="butt"/>
<line x1="338.7" y1="1662.4" x2="338.7" y2="1677.2" stroke="#000" stroke-width="3.7" stroke-linecap="butt"/>
<rect x="196.85" y="1405.9499999999998" width="67.99999999999999" height="256.45000000000016" fill="#F2999F" stroke="#000" stroke-width="3.7"/>
<line x1="230.9" y1="1398.4" x2="230.9" y2="1410.4" stroke="#000" stroke-width="2.0" stroke-linecap="butt"/>
<line x1="213.4" y1="1398.4" x2="248.4" y2="1398.4" stroke="#000" stroke-width="2.0" stroke-linecap="butt"/>
<line x1="213.4" y1="1410.4" x2="248.4" y2="1410.4" stroke="#000" stroke-width="2.0" stroke-linecap="butt"/>
<circle cx="219.2" cy="1398.4" r="5.18" fill="#000"/>
<circle cx="219.2" cy="1411.5" r="5.18" fill="#000"/>
<circle cx="242.6" cy="1402.1" r="5.18" fill="#000"/>
<text x="230.3" y="1708.5" font-size="27.8" font-weight="bold" text-anchor="middle">Ctrl</text>
<rect x="305.05" y="1495.85" width="68.20000000000003" height="166.5500000000001" fill="#99C5F8" stroke="#000" stroke-width="3.7"/>
<line x1="339.3" y1="1489.5" x2="339.3" y2="1498.9" stroke="#000" stroke-width="2.0" stroke-linecap="butt"/>
<line x1="321.8" y1="1489.5" x2="356.8" y2="1489.5" stroke="#000" stroke-width="2.0" stroke-linecap="butt"/>
<line x1="321.8" y1="1498.9" x2="356.8" y2="1498.9" stroke="#000" stroke-width="2.0" stroke-linecap="butt"/>
<rect x="310.35" y="1493.25" width="11.30" height="11.30" fill="#000"/>
<rect x="333.05" y="1483.25" width="11.30" height="11.30" fill="#000"/>
<rect x="356.65" y="1490.35" width="11.30" height="11.30" fill="#000"/>
<text x="338.7" y="1708.5" font-size="27.8" font-weight="bold" text-anchor="middle">PD</text>
<line x1="227.2" y1="1336.1" x2="336.4" y2="1336.1" stroke="#000" stroke-width="1.9" stroke-linecap="butt"/>
<text x="280.4" y="1328.9" font-size="37" font-weight="bold" text-anchor="middle" font-family="'DejaVu Sans Mono',monospace" stroke="#000" stroke-width="0.6">**</text>
<text transform="translate(84.5 1708.1) rotate(-90)" font-size="31" font-weight="bold">
<tspan x="0" y="0" textLength="255.5" lengthAdjust="spacingAndGlyphs">Total SOD activity</tspan>
<tspan x="246.7" y="0" font-weight="normal">（</tspan>
<tspan x="297.6" y="0" textLength="142.6" lengthAdjust="spacingAndGlyphs">U/mgprot</tspan>
<tspan x="446" y="0" font-weight="normal">）</tspan>
</text>
<line x1="568.9" y1="1296.8500000000001" x2="568.9" y2="1665.55" stroke="#000" stroke-width="3.7" stroke-linecap="butt"/>
<line x1="553.6" y1="1663.7" x2="813.6" y2="1663.7" stroke="#000" stroke-width="3.7" stroke-linecap="butt"/>
<line x1="553.6" y1="1298.7" x2="568.9" y2="1298.7" stroke="#000" stroke-width="3.7" stroke-linecap="butt"/>
<text x="549.8" y="1309.2" font-size="27.8" font-weight="bold" text-anchor="end">30</text>
<line x1="553.6" y1="1421.7" x2="568.9" y2="1421.7" stroke="#000" stroke-width="3.7" stroke-linecap="butt"/>
<text x="549.8" y="1432.2" font-size="27.8" font-weight="bold" text-anchor="end">20</text>
<line x1="553.6" y1="1543.1" x2="568.9" y2="1543.1" stroke="#000" stroke-width="3.7" stroke-linecap="butt"/>
<text x="549.8" y="1553.6" font-size="27.8" font-weight="bold" text-anchor="end">10</text>
<line x1="553.6" y1="1663.7" x2="568.9" y2="1663.7" stroke="#000" stroke-width="3.7" stroke-linecap="butt"/>
<text x="549.8" y="1674.2" font-size="27.8" font-weight="bold" text-anchor="end">0</text>
<line x1="637.1" y1="1663.7" x2="637.1" y2="1679.3" stroke="#000" stroke-width="3.7" stroke-linecap="butt"/>
<line x1="741.6" y1="1663.7" x2="741.6" y2="1679.3" stroke="#000" stroke-width="3.7" stroke-linecap="butt"/>
<rect x="605.25" y="1315.4499999999998" width="65.00000000000004" height="348.2500000000001" fill="#F2999F" stroke="#000" stroke-width="3.7"/>
<line x1="637.8" y1="1307.1" x2="637.8" y2="1320.1" stroke="#000" stroke-width="2.0" stroke-linecap="butt"/>
<line x1="620.8" y1="1307.1" x2="654.8" y2="1307.1" stroke="#000" stroke-width="2.0" stroke-linecap="butt"/>
<line x1="620.8" y1="1320.1" x2="654.8" y2="1320.1" stroke="#000" stroke-width="2.0" stroke-linecap="butt"/>
<circle cx="626.8" cy="1307.1" r="5.26" fill="#000"/>
<circle cx="626.8" cy="1321.6" r="5.26" fill="#000"/>
<circle cx="649" cy="1312.1" r="5.26" fill="#000"/>
<text x="637.6" y="1708.9" font-size="27.8" font-weight="bold" text-anchor="middle">Ctrl</text>
<rect x="709.45" y="1417.05" width="65.3" height="246.65" fill="#99C5F8" stroke="#000" stroke-width="3.7"/>
<line x1="742" y1="1412.2" x2="742" y2="1418.1" stroke="#000" stroke-width="2.0" stroke-linecap="butt"/>
<line x1="725.0" y1="1412.2" x2="759.0" y2="1412.2" stroke="#000" stroke-width="2.0" stroke-linecap="butt"/>
<line x1="725.0" y1="1418.1" x2="759.0" y2="1418.1" stroke="#000" stroke-width="2.0" stroke-linecap="butt"/>
<rect x="714.43" y="1414.03" width="11.15" height="11.15" fill="#000"/>
<rect x="736.63" y="1406.63" width="11.15" height="11.15" fill="#000"/>
<rect x="758.23" y="1408.73" width="11.15" height="11.15" fill="#000"/>
<text x="742" y="1708.9" font-size="27.8" font-weight="bold" text-anchor="middle">PD</text>
<line x1="637.1" y1="1266.8" x2="742.2" y2="1266.8" stroke="#000" stroke-width="1.9" stroke-linecap="butt"/>
<text x="688.3" y="1259.7" font-size="35.8" font-weight="bold" text-anchor="middle" font-family="'DejaVu Sans Mono',monospace" stroke="#000" stroke-width="0.6">**</text>
<text transform="translate(496.5 1706.2) rotate(-90)" font-size="30.5" font-weight="bold">
<tspan x="0" y="0" textLength="178.5" lengthAdjust="spacingAndGlyphs">GSH content</tspan>
<tspan x="167.5" y="0" font-weight="normal">（</tspan>
<tspan x="212" y="0" textLength="200.5" lengthAdjust="spacingAndGlyphs">mgGSH/gprot</tspan>
<tspan x="419" y="0" font-weight="normal">）</tspan>
</text>
<line x1="1072.9" y1="1265.9" x2="1072.9" y2="1669.4" stroke="#000" stroke-width="4.0" stroke-linecap="butt"/>
<line x1="1056" y1="1667.4" x2="1340.2" y2="1667.4" stroke="#000" stroke-width="4.0" stroke-linecap="butt"/>
<line x1="1056" y1="1267.9" x2="1072.9" y2="1267.9" stroke="#000" stroke-width="4.0" stroke-linecap="butt"/>
<text x="1050.8" y="1279.3" font-size="29" font-weight="bold" text-anchor="end">10</text>
<line x1="1056" y1="1347.8" x2="1072.9" y2="1347.8" stroke="#000" stroke-width="4.0" stroke-linecap="butt"/>
<text x="1050.8" y="1359.2" font-size="29" font-weight="bold" text-anchor="end">8</text>
<line x1="1056" y1="1427.6" x2="1072.9" y2="1427.6" stroke="#000" stroke-width="4.0" stroke-linecap="butt"/>
<text x="1050.8" y="1439.0" font-size="29" font-weight="bold" text-anchor="end">6</text>
<line x1="1056" y1="1507.4" x2="1072.9" y2="1507.4" stroke="#000" stroke-width="4.0" stroke-linecap="butt"/>
<text x="1050.8" y="1518.8" font-size="29" font-weight="bold" text-anchor="end">4</text>
<line x1="1056" y1="1587.4" x2="1072.9" y2="1587.4" stroke="#000" stroke-width="4.0" stroke-linecap="butt"/>
<text x="1050.8" y="1598.8" font-size="29" font-weight="bold" text-anchor="end">2</text>
<line x1="1056" y1="1667.4" x2="1072.9" y2="1667.4" stroke="#000" stroke-width="4.0" stroke-linecap="butt"/>
<text x="1050.8" y="1678.8" font-size="29" font-weight="bold" text-anchor="end">0</text>
<line x1="1147.8" y1="1667.4" x2="1147.8" y2="1683.7" stroke="#000" stroke-width="4.0" stroke-linecap="butt"/>
<line x1="1261.8" y1="1667.4" x2="1261.8" y2="1683.7" stroke="#000" stroke-width="4.0" stroke-linecap="butt"/>
<rect x="1112.6499999999999" y="1466.4499999999998" width="71.8" height="200.9500000000002" fill="#F2999F" stroke="#000" stroke-width="3.7"/>
<line x1="1148.4" y1="1461.7" x2="1148.4" y2="1468.5" stroke="#000" stroke-width="2.0" stroke-linecap="butt"/>
<line x1="1130.4" y1="1461.7" x2="1166.4" y2="1461.7" stroke="#000" stroke-width="2.0" stroke-linecap="butt"/>
<line x1="1130.4" y1="1468.5" x2="1166.4" y2="1468.5" stroke="#000" stroke-width="2.0" stroke-linecap="butt"/>
<circle cx="1124.7" cy="1470" r="5.34" fill="#000"/>
<circle cx="1148.4" cy="1461.7" r="5.34" fill="#000"/>
<circle cx="1172.6" cy="1465.2" r="5.34" fill="#000"/>
<text x="1147.6" y="1714.8" font-size="29" font-weight="bold" text-anchor="middle">Ctrl</text>
<rect x="1225.75" y="1348.05" width="72.69999999999986" height="319.35" fill="#99C5F8" stroke="#000" stroke-width="3.7"/>
<line x1="1262" y1="1341.8" x2="1262" y2="1349" stroke="#000" stroke-width="2.0" stroke-linecap="butt"/>
<line x1="1244.0" y1="1341.8" x2="1280.0" y2="1341.8" stroke="#000" stroke-width="2.0" stroke-linecap="butt"/>
<line x1="1244.0" y1="1349" x2="1280.0" y2="1349" stroke="#000" stroke-width="2.0" stroke-linecap="butt"/>
<rect x="1232.81" y="1346.21" width="11.77" height="11.77" fill="#000"/>
<rect x="1256.51" y="1337.31" width="11.77" height="11.77" fill="#000"/>
<rect x="1280.11" y="1340.31" width="11.77" height="11.77" fill="#000"/>
<text x="1261.3" y="1714.8" font-size="29" font-weight="bold" text-anchor="middle">PD</text>
<line x1="1135.9" y1="1282.5" x2="1257" y2="1282.5" stroke="#000" stroke-width="1.9" stroke-linecap="butt"/>
<text x="1194.6" y="1275.5" font-size="39.2" font-weight="bold" text-anchor="middle" font-family="'DejaVu Sans Mono',monospace" stroke="#000" stroke-width="0.6">**</text>
<text transform="translate(994.4 1683.1) rotate(-90)" font-size="33" font-weight="bold">
<tspan x="0" y="0" textLength="436" lengthAdjust="spacingAndGlyphs">MDA content (umol/mgprot)</tspan>
</text>
</svg></body></html>
